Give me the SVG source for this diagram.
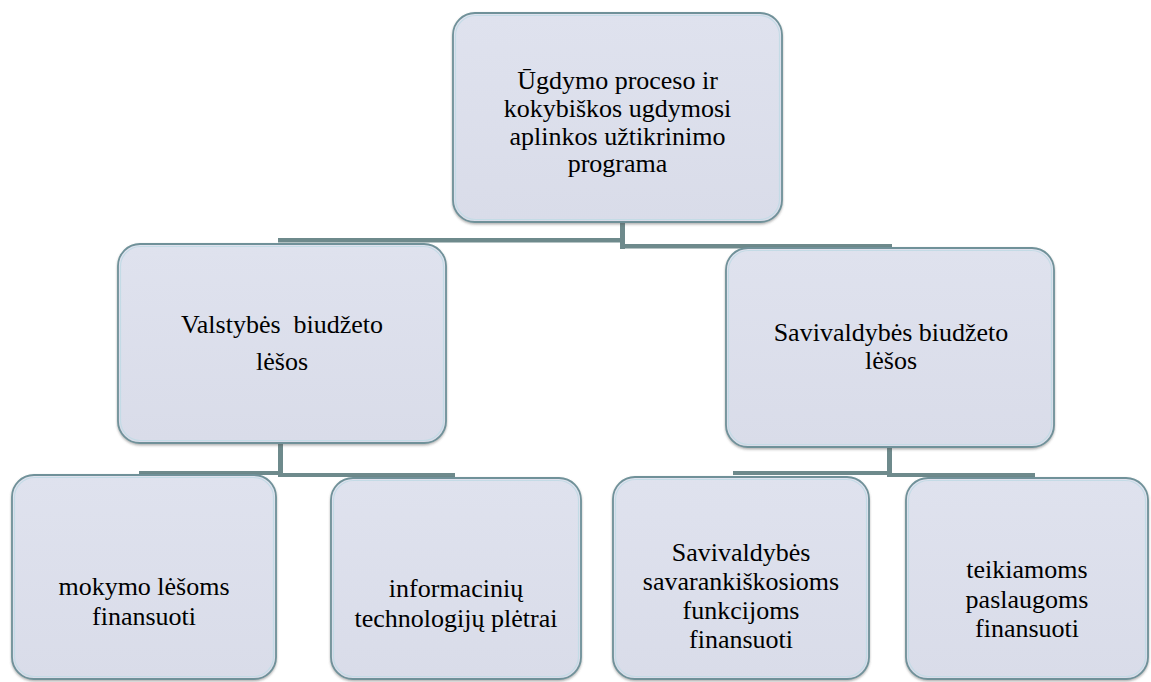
<svg xmlns="http://www.w3.org/2000/svg" width="1151" height="682" viewBox="0 0 1151 682">
<defs>
<linearGradient id="bg" x1="0" y1="0" x2="0" y2="1">
<stop offset="0" stop-color="#dfe2ee"/>
<stop offset="1" stop-color="#d9dce9"/>
</linearGradient>
<filter id="sh" x="-5%" y="-5%" width="110%" height="110%">
<feDropShadow dx="0" dy="1.5" stdDeviation="1.2" flood-color="#555" flood-opacity="0.45"/>
</filter>
</defs>
<style>
.box{fill:url(#bg);stroke:#6f9199;stroke-width:1.8;filter:url(#sh)}
.inner{fill:none;stroke:#c4dbe6;stroke-width:1.2}
.t{font-size:26px;fill:#000;text-anchor:middle}
.c{fill:#6e8a8c}
</style>
<rect width="1151" height="682" fill="#fff"/>
<g id="connectors">
<rect class="c" x="278" y="238" width="347" height="4.5"/>
<rect class="c" x="620" y="222" width="5" height="27"/>
<rect class="c" x="620" y="244" width="272" height="4.5"/>
<rect class="c" x="139" y="471" width="144" height="4"/>
<rect class="c" x="278" y="443" width="5" height="34"/>
<rect class="c" x="278" y="473" width="177" height="4"/>
<rect class="c" x="733" y="471" width="159" height="4"/>
<rect class="c" x="887" y="447" width="5" height="30"/>
<rect class="c" x="887" y="473" width="148" height="4"/>
</g>
<g font-family="'Liberation Serif', 'Times New Roman', 'DejaVu Serif', serif">
<g id="n-top">
<rect class="box" x="453" y="13" width="329" height="209" rx="22"/>
<rect class="inner" x="455.5" y="15.5" width="324" height="204" rx="20"/>
<text class="t" x="617.5" y="89">Ūgdymo proceso ir</text>
<text class="t" x="617.5" y="117">kokybiškos ugdymosi</text>
<text class="t" x="617.5" y="145">aplinkos užtikrinimo</text>
<text class="t" x="617.5" y="172">programa</text>
</g>
<g id="n-valst">
<rect class="box" x="118" y="244" width="328" height="199" rx="22"/>
<rect class="inner" x="120.5" y="246.5" width="323" height="194" rx="20"/>
<text class="t" x="282" y="333" xml:space="preserve">Valstybės  biudžeto</text>
<text class="t" x="282" y="370">lėšos</text>
</g>
<g id="n-saviv">
<rect class="box" x="726" y="248" width="328" height="199" rx="22"/>
<rect class="inner" x="728.5" y="250.5" width="323" height="194" rx="20"/>
<text class="t" x="891" y="341">Savivaldybės biudžeto</text>
<text class="t" x="891" y="369">lėšos</text>
</g>
<g id="n-mokymo">
<rect class="box" x="12" y="475" width="264" height="204" rx="22"/>
<rect class="inner" x="14.5" y="477.5" width="259" height="199" rx="20"/>
<text class="t" x="144" y="595">mokymo lėšoms</text>
<text class="t" x="144" y="625">finansuoti</text>
</g>
<g id="n-info">
<rect class="box" x="331" y="478" width="250" height="201" rx="22"/>
<rect class="inner" x="333.5" y="480.5" width="245" height="196" rx="20"/>
<text class="t" x="456" y="597">informacinių</text>
<text class="t" x="456" y="627">technologijų plėtrai</text>
</g>
<g id="n-savarank">
<rect class="box" x="613" y="477" width="256" height="202" rx="22"/>
<rect class="inner" x="615.5" y="479.5" width="251" height="197" rx="20"/>
<text class="t" x="741" y="561">Savivaldybės</text>
<text class="t" x="741" y="590">savarankiškosioms</text>
<text class="t" x="741" y="619">funkcijoms</text>
<text class="t" x="741" y="648">finansuoti</text>
</g>
<g id="n-teikiamoms">
<rect class="box" x="906" y="478" width="242" height="201" rx="22"/>
<rect class="inner" x="908.5" y="480.5" width="237" height="196" rx="20"/>
<text class="t" x="1027" y="578">teikiamoms</text>
<text class="t" x="1027" y="608">paslaugoms</text>
<text class="t" x="1027" y="637">finansuoti</text>
</g>
</g>
</svg>
